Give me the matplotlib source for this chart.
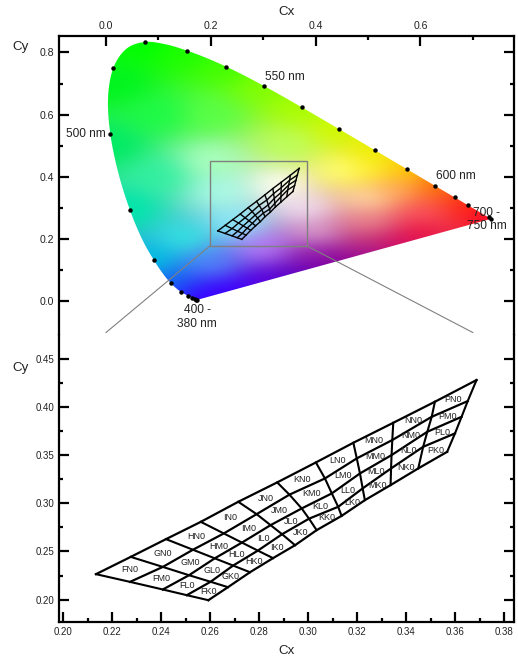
import numpy as np
import matplotlib
matplotlib.use('Agg')
import matplotlib.pyplot as plt
from matplotlib.patches import Polygon, Rectangle

plt.rcParams['font.family'] = ['Liberation Sans', 'DejaVu Sans']

# spectral locus outline
locus_x = [.1741, .1733, .1714, .1689, .1644, .1566, .1440, .1355, .1241, .1096, .0913, .0687, .0454, .0235, .0082,
           .0039, .0139, .0389, .0743, .1142, .1547, .1929, .2296, .2658, .3016, .3373, .3731, .4087, .4441, .4788,
           .5125, .5448, .5752, .6029, .6270, .6482, .6658, .6801, .6915, .7006, .7079, .7140, .7190, .7230, .7260,
           .7300, .7334, .7347]
locus_y = [.0050, .0048, .0051, .0069, .0109, .0177, .0297, .0399, .0578, .0868, .1327, .2007, .2950, .4127, .5384,
           .6548, .7502, .8120, .8338, .8262, .8059, .7816, .7543, .7243, .6923, .6589, .6245, .5896, .5547, .5202,
           .4866, .4544, .4242, .3965, .3725, .3514, .3340, .3197, .3083, .2993, .2920, .2859, .2809, .2770, .2740,
           .2700, .2666, .2653]

# black dots along the locus
dot_x = [.1741, .1714, .1689, .1644, .1566, .1440, .1241, .0913, .0454, .0082, .0139, .0743, .1547, .2296, .3016,
         .3731, .4441, .5125, .5752, .6270, .6658, .6915, .7300, .7347]
dot_y = [.0050, .0051, .0069, .0109, .0177, .0297, .0578, .1327, .2950, .5384, .7502, .8338, .8059, .7543, .6923,
         .6245, .5547, .4866, .4242, .3725, .3340, .3083, .2700, .2653]

# colours at a set of chromaticities
anchor_x = [.07, .15, .02, .23, .30, .37, .44, .51, .57, .63, .69, .73, .60, .50, .40, .30, .20, .17, .144, .124, .09,
            .045, .01, .33, .20, .22, .25, .15, .20, .30, .40, .50, .60, .50, .55, .45, .50, .35, .20, .10, .10, .38,
            .40, .50, .45, .35, .25, .55, .50, .45, .35]
anchor_y = [.83, .80, .70, .75, .69, .62, .55, .48, .42, .37, .31, .27, .22, .16, .11, .06, .015, .01, .03, .06, .13,
            .295, .50, .37, .45, .35, .25, .20, .12, .17, .22, .25, .28, .33, .36, .42, .42, .50, .60, .60, .40, .30,
            .15, .20, .12, .07, .03, .18, .10, .07, .03]
anchor_r = [0, 30, 0, 70, 130, 170, 210, 240, 255, 255, 255, 250, 235, 170, 120, 90, 60, 60, 30, 20, 0,
            0, 0, 255, 170, 170, 140, 50, 80, 180, 215, 235, 250, 255, 255, 255, 255, 190, 90, 30, 50, 240,
            150, 200, 140, 90, 60, 210, 150, 120, 80]
anchor_g = [255, 255, 245, 255, 255, 255, 250, 240, 200, 110, 40, 10, 20, 20, 0, 0, 0, 0, 60, 110, 190,
            230, 235, 255, 255, 250, 235, 225, 130, 120, 150, 130, 80, 210, 170, 255, 240, 255, 255, 250, 240, 220,
            30, 60, 0, 0, 0, 10, 0, 0, 0]
anchor_b = [0, 0, 30, 0, 0, 0, 0, 0, 0, 10, 20, 40, 70, 140, 170, 220, 255, 255, 255, 240, 225,
            170, 100, 240, 190, 230, 250, 225, 250, 245, 200, 140, 90, 160, 90, 110, 50, 90, 70, 70, 160, 240,
            170, 120, 150, 200, 255, 100, 140, 160, 230]

# grid vertices, one row per column line, from the N edge to the K edge
grid_x = [[.2133, .2272, .2406, .2504, .2592],
          [.2275, .2406, .2513, .2601, .2672],
          [.2419, .2529, .2618, .2693, .2762],
          [.2561, .2655, .2729, .2794, .2856],
          [.2714, .2789, .2846, .2893, .2946],
          [.2873, .2923, .2973, .3003, .3034],
          [.3031, .3068, .3096, .3122, .3136],
          [.3184, .3198, .3211, .3222, .3231],
          [.3347, .3343, .3340, .3338, .3336],
          [.3517, .3504, .3486, .3469, .3449],
          [.3687, .3651, .3626, .3599, .3567]]
grid_y = [[.2265, .2185, .2106, .2047, .1995],
          [.2444, .2340, .2254, .2186, .2130],
          [.2628, .2518, .2429, .2354, .2285],
          [.2807, .2687, .2592, .2509, .2431],
          [.3015, .2887, .2773, .2679, .2565],
          [.3216, .3089, .2946, .2840, .2721],
          [.3423, .3257, .3102, .2963, .2869],
          [.3627, .3465, .3309, .3154, .3032],
          [.3834, .3655, .3499, .3361, .3188],
          [.4052, .3896, .3741, .3585, .3361],
          [.4277, .4059, .3896, .3724, .3533]]
col_names = ['F', 'G', 'H', 'I', 'J', 'K', 'L', 'M', 'N', 'P']
row_names = ['N', 'M', 'L', 'K']

top_xticks = [0.0, 0.2, 0.4, 0.6]
top_yticks = [0.0, 0.2, 0.4, 0.6, 0.8]
bot_xticks = [.20, .22, .24, .26, .28, .30, .32, .34, .36, .38]
bot_yticks = [.20, .25, .30, .35, .40, .45]

nm_text = ['550 nm', '500 nm', '600 nm', '700 -\n750 nm', '400 -\n380 nm']
nm_x = [.342, -.038, .668, .727, .174]
nm_y = [.721, .537, .403, .2637, -.0505]

zoom_x = [.198, .384]
zoom_y = [.178, .452]
link_x = [0.0, 0.70]
link_y = -0.10


def smooth_outline(x, y, n=8):
    # Catmull-Rom through the locus so the clip edge is not faceted
    p = np.column_stack([x, y])
    p = np.vstack([p[0], p, p[-1]])
    out = []
    for i in range(1, len(p) - 2):
        for t in np.linspace(0, 1, n, endpoint=False):
            out.append(0.5 * (2 * p[i] + (p[i + 1] - p[i - 1]) * t
                              + (2 * p[i - 1] - 5 * p[i] + 4 * p[i + 1] - p[i + 2]) * t ** 2
                              + (3 * p[i] - p[i - 1] - 3 * p[i + 1] + p[i + 2]) * t ** 3))
    out.append(p[-2])
    return np.array(out)


def blur(img, sigma):
    # separable gaussian, edges padded
    r = int(3 * sigma)
    k = np.exp(-0.5 * (np.arange(-r, r + 1) / sigma) ** 2)
    k = k / k.sum()
    out = img.copy()
    for axis in (0, 1):
        pad = [(r, r) if a == axis else (0, 0) for a in range(2)]
        for c in range(3):
            out[..., c] = np.apply_along_axis(lambda v: np.convolve(v, k, mode='valid'), axis,
                                              np.pad(out[..., c], pad, mode='edge'))
    return out


W, H = 518, 661
fig = plt.figure(figsize=(W / 100, H / 100), dpi=100)
ax0 = fig.add_axes([59 / W, (H - 335) / H, 455 / W, 299 / H])
ax1 = fig.add_axes([59 / W, (H - 622) / H, 455 / W, 287 / H])

# colour field, blended between the anchor colours
xx, yy = np.meshgrid(np.linspace(0, .75, 300), np.linspace(0, .85, 340))
d2 = (xx[..., None] - np.array(anchor_x)) ** 2 + (yy[..., None] - np.array(anchor_y)) ** 2
w = 1 / (d2 + 1e-5) ** 1.6
w = w / w.sum(axis=2, keepdims=True)
anchors = np.column_stack([anchor_r, anchor_g, anchor_b]) / 255
rgb = blur(np.clip(w @ anchors, 0, 1), 9)
im = ax0.imshow(rgb, origin='lower', extent=[0, .75, 0, .85], aspect='auto', interpolation='bilinear', zorder=1)
clip = Polygon(smooth_outline(locus_x, locus_y), closed=True, transform=ax0.transData, fc='none', ec='none')
ax0.add_patch(clip)
im.set_clip_path(clip)

ax0.plot(dot_x, dot_y, 'o', color='k', ms=3.2, mew=0, zorder=4)
ax0.add_patch(Rectangle((zoom_x[0], zoom_y[0]), zoom_x[1] - zoom_x[0], zoom_y[1] - zoom_y[0],
                        fc='none', ec='#808080', lw=1, zorder=2))
ax0.plot([zoom_x[0], link_x[0]], [zoom_y[0], link_y], color='#808080', lw=0.8, zorder=2)
ax0.plot([zoom_x[1], link_x[1]], [zoom_y[0], link_y], color='#808080', lw=0.8, zorder=2)
for s, x, y in zip(nm_text, nm_x, nm_y):
    ax0.text(x, y, s, ha='center', va='center', fontsize=8.6, color='#222222', zorder=5, linespacing=1.15)

gx = np.array(grid_x)
gy = np.array(grid_y)
ax0.plot(gx, gy, color='k', lw=1.0, zorder=3)
ax0.plot(gx.T, gy.T, color='k', lw=1.0, zorder=3)
ax1.plot(gx, gy, color='k', lw=1.6)
ax1.plot(gx.T, gy.T, color='k', lw=1.5)

# cell labels
for i, c in enumerate(col_names):
    for j, rn in enumerate(row_names):
        cx = gx[i:i + 2, j:j + 2].mean()
        cy = gy[i:i + 2, j:j + 2].mean()
        ax1.text(cx, cy, c + rn + '0', ha='center', va='center', fontsize=6.5, color='#222222')

ax0.set_xlim(-0.0897, 0.7786)
ax0.set_ylim(-0.108, 0.853)
ax1.set_xlim(0.1982, 0.384)
ax1.set_ylim(0.1769, 0.4744)

ax0.spines['bottom'].set_visible(False)
ax1.spines['top'].set_visible(False)
for ax in (ax0, ax1):
    for s in ax.spines.values():
        s.set_linewidth(1.6)

ax0.xaxis.tick_top()
ax0.set_xticks(top_xticks)
ax0.set_xticklabels(['%.1f' % v for v in top_xticks])
ax0.set_yticks(top_yticks)
ax0.set_yticklabels(['%.1f' % v for v in top_yticks])
ax0.set_xticks([.1, .3, .5, .7], minor=True)
ax0.set_yticks([.1, .3, .5, .7], minor=True)
ax0.tick_params(which='major', direction='in', length=7.5, width=1.6, labelsize=7.6, pad=3.5, top=True, bottom=False,
                left=True, right=True, colors='k', labelcolor='#222222')
ax0.tick_params(which='minor', direction='in', length=3, width=1.6, top=True, bottom=False, left=True, right=True)

ax1.set_xticks(bot_xticks)
ax1.set_xticklabels(['%.2f' % v for v in bot_xticks])
ax1.set_yticks(bot_yticks)
ax1.set_yticklabels(['%.2f' % v for v in bot_yticks])
ax1.set_xticks(np.array(bot_xticks[:-1]) + .01, minor=True)
ax1.set_yticks(np.array(bot_yticks[:-1]) + .025, minor=True)
ax1.tick_params(which='major', direction='in', length=7.5, width=1.6, labelsize=7, pad=3.5, top=False, bottom=True,
                left=True, right=True, labelcolor='#222222')
ax1.tick_params(which='minor', direction='in', length=3, width=1.6, top=False, bottom=True, left=True, right=True)

fig.text(287 / W, 1 - 12 / H, 'Cx', ha='center', va='center', fontsize=9.6, color='#222222')
fig.text(287 / W, 1 - 651 / H, 'Cx', ha='center', va='center', fontsize=9.6, color='#222222')
fig.text(21 / W, 1 - 47 / H, 'Cy', ha='center', va='center', fontsize=9.6, color='#222222')
fig.text(21 / W, 1 - 368 / H, 'Cy', ha='center', va='center', fontsize=9.6, color='#222222')

plt.savefig('out.png', dpi=100)
